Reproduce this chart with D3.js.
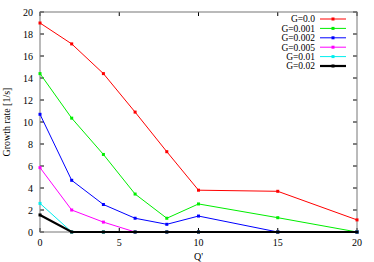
<!DOCTYPE html>
<html>
<head>
<meta charset="utf-8">
<script src="https://cdn.jsdelivr.net/npm/d3@7"></script>
<style>
  body { margin: 0; background: #fff; }
  text { font-family: "Liberation Serif", "DejaVu Serif", serif; }
</style>
</head>
<body>
<div id="chart"></div>
<script>
// Q' values and growth rates
var qValues = [0, 2, 4, 6, 8, 10, 15, 20];
var seriesNames = ["G=0.0", "G=0.001", "G=0.002", "G=0.005", "G=0.01", "G=0.02"];
var seriesColors = ["#ff0000", "#00ee00", "#0000ff", "#ff00ff", "#00eeee", "#000000"];
var g0 = [19.0, 17.1, 14.4, 10.9, 7.3, 3.8, 3.7, 1.1];
var g001 = [14.4, 10.35, 7.05, 3.45, 1.25, 2.55, 1.3, 0];
var g002 = [10.7, 4.7, 2.5, 1.25, 0.7, 1.45, 0, 0];
var g005 = [5.85, 2.0, 0.9, 0, 0, 0, 0, 0];
var g01 = [2.6, 0, 0, 0, 0, 0, 0, 0];
var g02 = [1.55, 0, 0, 0, 0, 0, 0, 0];
var allSeries = [g0, g001, g002, g005, g01, g02];
var xTicks = [0, 5, 10, 15, 20];
var yTicks = [0, 2, 4, 6, 8, 10, 12, 14, 16, 18, 20];

var W = 374, H = 262;
// plot box edges (don't call these top/left, window.top is taken)
var pL = 40, pR = 357, pT = 12, pB = 232;

var svg = d3.select("#chart").append("svg")
  .attr("width", W)
  .attr("height", H);

var x = d3.scaleLinear().domain([0, 20]).range([pL, pR]);
var y = d3.scaleLinear().domain([0, 20]).range([pB, pT]);

// ticks inward, mirrored on top and right
var tickLen = 4;
var axisG = svg.append("g");
axisG.selectAll(".xt").data(xTicks).enter().append("line")
  .attr("x1", function(d) { return x(d); }).attr("x2", function(d) { return x(d); })
  .attr("y1", pB).attr("y2", pB - tickLen)
  .attr("stroke", "#000").attr("stroke-width", 1);
axisG.selectAll(".xt2").data(xTicks).enter().append("line")
  .attr("x1", function(d) { return x(d); }).attr("x2", function(d) { return x(d); })
  .attr("y1", pT).attr("y2", pT + tickLen)
  .attr("stroke", "#000").attr("stroke-width", 1);
axisG.selectAll(".yt").data(yTicks).enter().append("line")
  .attr("x1", pL).attr("x2", pL + tickLen)
  .attr("y1", function(d) { return y(d); }).attr("y2", function(d) { return y(d); })
  .attr("stroke", "#000").attr("stroke-width", 1);
axisG.selectAll(".yt2").data(yTicks).enter().append("line")
  .attr("x1", pR).attr("x2", pR - tickLen)
  .attr("y1", function(d) { return y(d); }).attr("y2", function(d) { return y(d); })
  .attr("stroke", "#000").attr("stroke-width", 1);

axisG.append("rect")
  .attr("x", pL).attr("y", pT)
  .attr("width", pR - pL).attr("height", pB - pT)
  .attr("fill", "none").attr("stroke", "#777").attr("stroke-width", 1);

// tick labels
axisG.selectAll(".xl").data(xTicks).enter().append("text")
  .attr("x", function(d) { return x(d); })
  .attr("y", pB + 14)
  .attr("text-anchor", "middle")
  .attr("font-size", 10)
  .text(function(d) { return d; });
axisG.selectAll(".yl").data(yTicks).enter().append("text")
  .attr("x", pL - 7)
  .attr("y", function(d) { return y(d) + 3.5; })
  .attr("text-anchor", "end")
  .attr("font-size", 10)
  .text(function(d) { return d; });

svg.append("text")
  .attr("x", (pL + pR) / 2)
  .attr("y", 260)
  .attr("text-anchor", "middle")
  .attr("font-size", 10)
  .text("Q'");
svg.append("text")
  .attr("transform", "translate(10," + ((pT + pB) / 2) + ") rotate(-90)")
  .attr("text-anchor", "middle")
  .attr("font-size", 10)
  .text("Growth rate [1/s]");

// series lines with point markers
var line = d3.line()
  .x(function(d, i) { return x(qValues[i]); })
  .y(function(d) { return y(d); });

allSeries.forEach(function(vals, k) {
  var sw = k === 5 ? 2.2 : 1;
  svg.append("path")
    .datum(vals)
    .attr("d", line)
    .attr("fill", "none")
    .attr("stroke", seriesColors[k])
    .attr("stroke-width", sw);
  svg.selectAll(".pt" + k).data(vals).enter().append("rect")
    .attr("x", function(d, i) { return x(qValues[i]) - 1.5; })
    .attr("y", function(d) { return y(d) - 1.5; })
    .attr("width", 3).attr("height", 3)
    .attr("fill", seriesColors[k]);
});

// legend
var legend = svg.append("g");
seriesNames.forEach(function(name, k) {
  var ly = 19 + k * 9.4;
  legend.append("text")
    .attr("x", 315).attr("y", ly + 3.3)
    .attr("text-anchor", "end")
    .attr("font-size", 9.5)
    .text(name);
  legend.append("line")
    .attr("x1", 320).attr("x2", 346)
    .attr("y1", ly).attr("y2", ly)
    .attr("stroke", seriesColors[k])
    .attr("stroke-width", k === 5 ? 2.2 : 1);
  legend.append("rect")
    .attr("x", 331.5).attr("y", ly - 1.5)
    .attr("width", 3).attr("height", 3)
    .attr("fill", seriesColors[k]);
});
</script>
</body>
</html>
